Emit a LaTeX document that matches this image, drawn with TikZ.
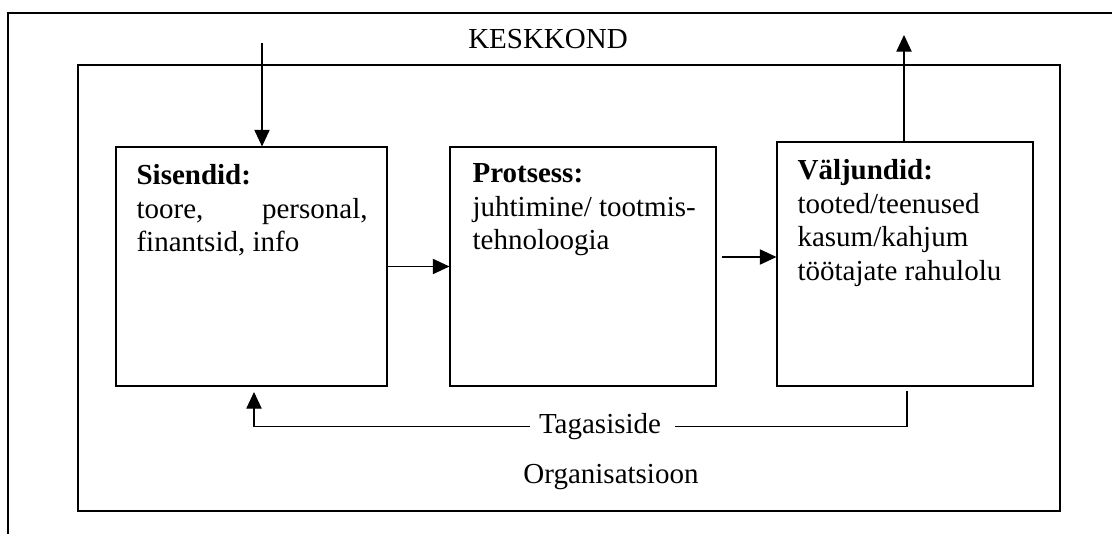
\documentclass[tikz,border=0pt]{standalone}
\usepackage{fontspec}
\setmainfont{Liberation Serif}
\usetikzlibrary{arrows.meta}
\begin{document}
\begin{tikzpicture}[x=0.75pt,y=-0.75pt,
  line width=0.85pt,
  block/.style={draw, inner sep=0pt, minimum width=#1},
  body/.style={inner sep=0pt, anchor=base west, font=\fontsize{21.75}{25.1}\selectfont},
  label/.style={font=\fontsize{21.75}{25.1}\selectfont},
  arr/.style={-{Triangle[length=12.5pt,width=11.5pt]}}]
\useasboundingbox (0,0) rectangle (1112,534);

% environment frame (only top and left edges fall inside the page)
\draw (8,534) -- (8,13) -- (1112,13);
\node[label, anchor=base] (env) at (548,49) {KESKKOND};

% organisation frame
\draw (78,65) rectangle (1060,511);
\node[label, anchor=base] (org) at (611,483) {Organisatsioon};

% the three blocks
\node[block=203.25pt, minimum height=179.25pt] (sis) at (251.5,266.5) {};
\node[block=199.5pt, minimum height=179.25pt] (pro) at (583,266.5) {};
\node[block=192pt, minimum height=183pt] (val) at (905,264) {};

\node[body] (sistext) at (136,185) {\parbox[t]{173.25pt}{%
  \textbf{Sisendid:}\\
  \hbox to 173.25pt{toore,\hfill personal,}\\
  finantsid, info}};
\node[body] (protext) at (472,183) {\parbox[t]{190pt}{%
  \textbf{Protsess:}\\
  juhtimine/ tootmis-\\
  tehnoloogia}};
\node[body] (valtext) at (797,180) {\parbox[t]{190pt}{%
  \textbf{Väljundid:}\\
  tooted/teenused\\
  kasum/kahjum\\
  töötajate rahulolu}};

% input from and output to the environment
\coordinate (intop) at (262,43);
\draw[arr] (intop) -- (intop |- sis.north);
\coordinate (outtip) at (904,35);
\draw[arr] (outtip |- val.north) -- (outtip);

% flow between blocks
\draw[arr] (sis.east) -- (pro.west);
\coordinate (p2) at (722,257);
\draw[arr] (p2) -- (p2 -| val.west);

% feedback loop
\node[label, anchor=base, inner xsep=6pt] (tag) at (600,433) {Tagasiside};
\coordinate (fbtop) at (907,391);
\coordinate (fbin) at (254,392);
\draw (fbtop) |- ([xshift=4pt]tag.east);
\draw[arr] (tag.west) -| (fbin);
\end{tikzpicture}
\end{document}
